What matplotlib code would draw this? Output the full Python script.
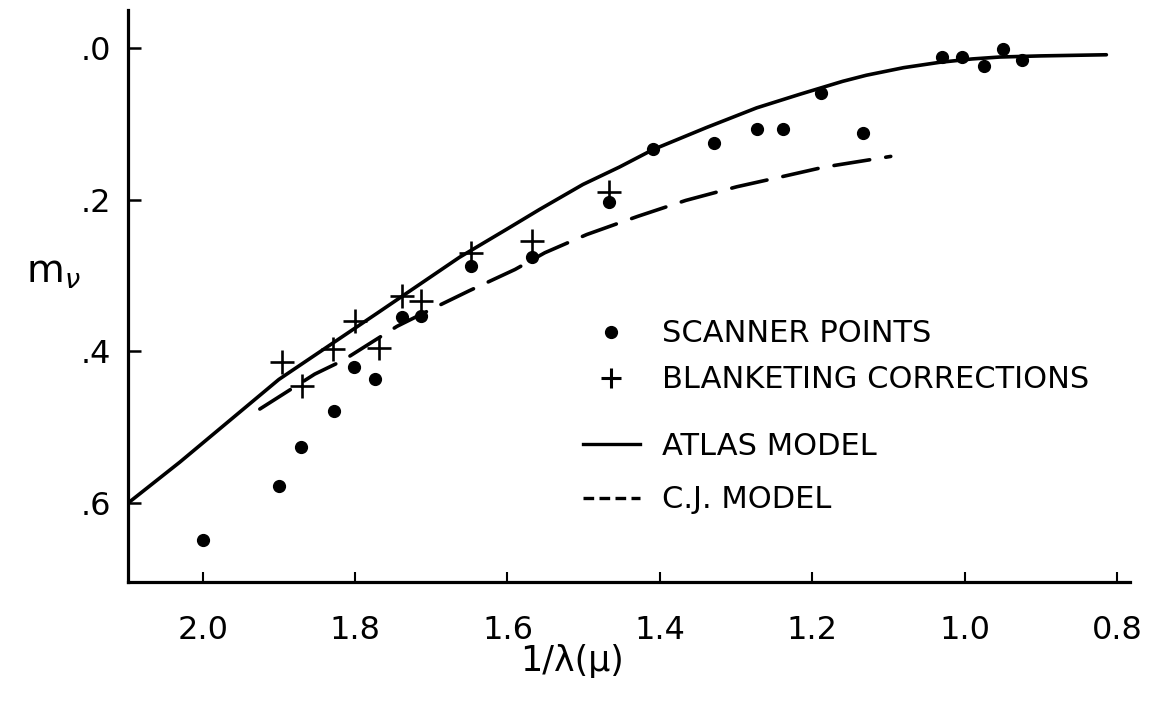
import numpy as np
import matplotlib
matplotlib.use("Agg")
import matplotlib.pyplot as plt
from matplotlib.lines import Line2D

# scanner points (dots)
scan_x = [2.000, 1.900, 1.871, 1.828, 1.802, 1.774, 1.739, 1.714, 1.648, 1.568,
          1.467, 1.409, 1.329, 1.272, 1.238, 1.189, 1.134, 1.030, 1.004, 0.974,
          0.950, 0.925]
scan_y = [0.648, 0.578, 0.526, 0.478, 0.421, 0.436, 0.355, 0.354, 0.287, 0.275,
          0.203, 0.133, 0.125, 0.107, 0.107, 0.059, 0.112, 0.012, 0.012, 0.024,
          0.002, 0.016]

# blanketing corrections (plus signs)
blank_x = [1.896, 1.869, 1.829, 1.800, 1.769, 1.739, 1.713, 1.648, 1.568, 1.467]
blank_y = [0.414, 0.445, 0.397, 0.360, 0.395, 0.327, 0.334, 0.270, 0.255, 0.190]

# ATLAS model (solid)
atlas_x = [2.098, 2.030, 1.900, 1.770, 1.663, 1.601, 1.558, 1.501, 1.453, 1.409,
           1.339, 1.273, 1.216, 1.160, 1.129, 1.080, 1.033, 0.990, 0.954, 0.900,
           0.814]
atlas_y = [0.600, 0.546, 0.437, 0.349, 0.276, 0.239, 0.213, 0.180, 0.157, 0.134,
           0.105, 0.079, 0.061, 0.044, 0.036, 0.026, 0.019, 0.0145, 0.012, 0.0105,
           0.009]

# C.J. model (dashed)
cj_x = [1.925, 1.853, 1.816, 1.745, 1.693, 1.650, 1.590, 1.551, 1.496, 1.429,
        1.366, 1.299, 1.241, 1.184, 1.097]
cj_y = [0.476, 0.430, 0.412, 0.367, 0.341, 0.320, 0.292, 0.270, 0.246, 0.222,
        0.201, 0.183, 0.170, 0.157, 0.143]

xticks = [2.0, 1.8, 1.6, 1.4, 1.2, 1.0, 0.8]
xtick_labels = ["2.0", "1.8", "1.6", "1.4", "1.2", "1.0", "0.8"]
yticks = [0.0, 0.2, 0.4, 0.6]
ytick_labels = [".0", ".2", ".4", ".6"]

W, H = 1149, 704
fig = plt.figure(figsize=(W / 100, H / 100), dpi=100)
ax = fig.add_axes([128 / W, 1 - 582 / H, (1130 - 128) / W, (582 - 10) / H])

ax.plot(atlas_x, atlas_y, color="black", lw=2.6, solid_capstyle="round",
        solid_joinstyle="round")
ax.plot(cj_x, cj_y, color="black", lw=2.6, dashes=(10, 4.5), dash_capstyle="round")
ax.plot(scan_x, scan_y, "o", color="black", ms=8.5, ls="none")
ax.plot(blank_x, blank_y, "+", color="black", ms=17, mew=1.9, ls="none")

ax.set_xlim(2.098, 0.783)
ax.set_ylim(0.704, -0.05)

for s in ["top", "right"]:
    ax.spines[s].set_visible(False)
for s in ["left", "bottom"]:
    ax.spines[s].set_linewidth(2.3)

ax.set_xticks(xticks)
ax.set_xticklabels(xtick_labels)
ax.set_yticks(yticks)
ax.set_yticklabels(ytick_labels)
ax.tick_params(axis="x", direction="in", length=7, width=1.5, labelsize=23, pad=24)
ax.tick_params(axis="y", direction="in", length=9, width=1.8, labelsize=23, pad=12)

fig.text(572 / W, 1 - 661 / H, "1/λ(μ)", fontsize=25, ha="center", va="center")
fig.text(53 / W, 1 - 272 / H, r"m$_\nu$", fontsize=28, ha="center", va="center")

# key
mark_handles = [
    Line2D([], [], marker="o", color="black", ms=8.5, ls="none"),
    Line2D([], [], marker="+", color="black", ms=14, mew=2.2, ls="none"),
]
line_handles = [
    Line2D([], [], color="black", lw=2.4),
    Line2D([], [], color="black", lw=2.4, dashes=(3.2, 1.6)),
]
common = dict(frameon=False, fontsize=22, handlelength=1.86, handletextpad=0.72,
              borderpad=0, borderaxespad=0, loc="upper left",
              bbox_transform=fig.transFigure)
leg1 = ax.legend(mark_handles, ["SCANNER POINTS", "BLANKETING CORRECTIONS"],
                 labelspacing=0.55, bbox_to_anchor=(583 / W, 1 - 319.5 / H), **common)
ax.add_artist(leg1)
ax.legend(line_handles, ["ATLAS MODEL", "C.J. MODEL"],
          labelspacing=0.8, bbox_to_anchor=(583 / W, 1 - 432 / H), **common)

fig.savefig("out.png", dpi=100, facecolor="white")
